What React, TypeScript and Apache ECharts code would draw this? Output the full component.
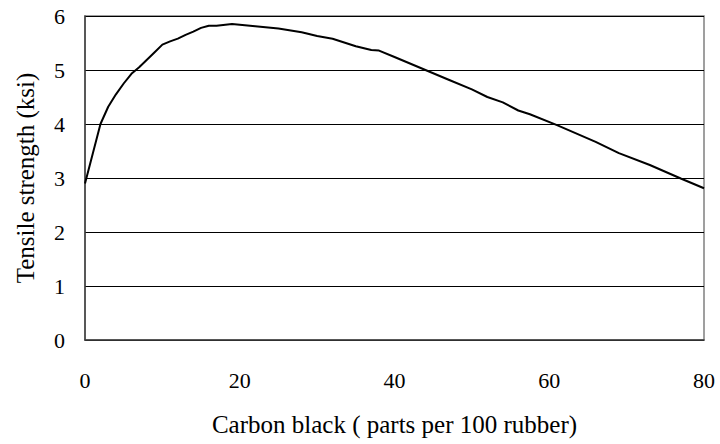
import React, { useEffect, useRef } from "react";
import * as echarts from "echarts";

const carbonBlack = [0, 1, 2, 3, 4, 5, 6, 7, 8, 9, 10, 11, 12, 13, 14, 15, 16, 17, 19, 22, 25, 28, 30, 32, 35, 37, 38, 40, 44, 47, 50, 52, 54, 56, 57.5, 61, 66, 69, 73, 77, 80];
const tensileStrength = [2.9, 3.45, 4.0, 4.32, 4.55, 4.75, 4.93, 5.05, 5.19, 5.33, 5.47, 5.53, 5.58, 5.65, 5.71, 5.78, 5.82, 5.82, 5.85, 5.81, 5.77, 5.7, 5.63, 5.58, 5.44, 5.37, 5.36, 5.24, 5.0, 4.82, 4.64, 4.5, 4.4, 4.25, 4.18, 3.98, 3.67, 3.46, 3.24, 2.99, 2.81];

const xTitle = "Carbon black ( parts per 100 rubber)";
const yTitle = "Tensile strength (ksi)";

const FONT = "Liberation Serif";

export default function App() {
  const ref = useRef<HTMLDivElement>(null);
  useEffect(() => {
    if (!ref.current) return;
    const chart = echarts.init(ref.current, undefined, { renderer: "svg" });
    const data = carbonBlack.map((x, i) => [x, tensileStrength[i]]);
    chart.setOption({
      animation: false,
      backgroundColor: "#ffffff",
      textStyle: { fontFamily: FONT },
      grid: {
        left: 85,
        right: 16,
        top: 16,
        bottom: 104,
        show: true,
        borderColor: "#808080",
        borderWidth: 1.5,
      },
      xAxis: {
        type: "value",
        min: 0,
        max: 80,
        interval: 20,
        name: xTitle,
        nameLocation: "middle",
        nameGap: 72,
        nameTextStyle: { fontFamily: FONT, fontSize: 25, color: "#000" },
        axisLine: { show: true, lineStyle: { color: "#404040", width: 1.5 } },
        axisTick: { show: false },
        axisLabel: { fontFamily: FONT, fontSize: 22, color: "#000", margin: 29 },
        splitLine: { show: false },
      },
      yAxis: {
        type: "value",
        min: 0,
        max: 6,
        interval: 1,
        name: yTitle,
        nameLocation: "middle",
        nameGap: 47,
        nameTextStyle: { fontFamily: FONT, fontSize: 25, color: "#000" },
        axisLine: { show: true, lineStyle: { color: "#404040", width: 1.5 } },
        axisTick: { show: false },
        axisLabel: { fontFamily: FONT, fontSize: 22, color: "#000", margin: 20, padding: [4, 0, 0, 0] },
        splitLine: { show: true, lineStyle: { color: "#000", width: 1 } },
      },
      series: [
        {
          type: "line",
          data,
          showSymbol: false,
          symbol: "none",
          lineStyle: { color: "#000", width: 2 },
          z: 5,
        },
      ],
    });
    return () => chart.dispose();
  }, []);
  return <div ref={ref} style={{ width: 720, height: 444, position: "absolute", left: 0, top: 0 }} />;
}
